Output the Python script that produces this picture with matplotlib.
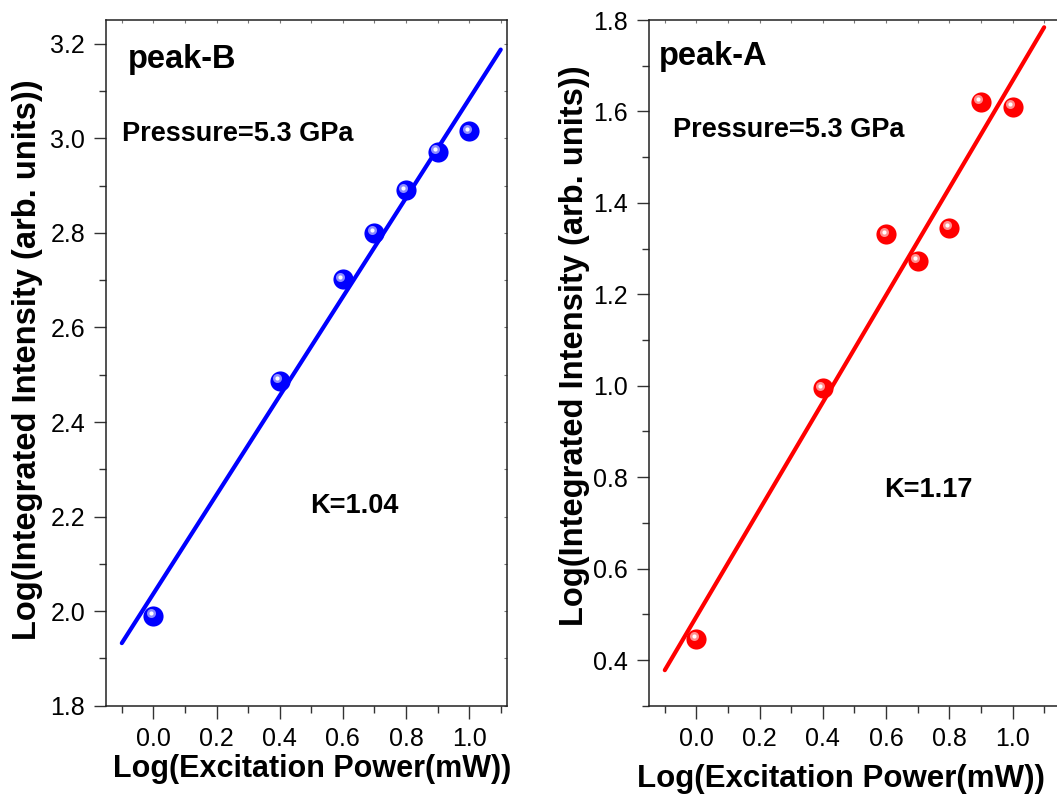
import numpy as np
import matplotlib
matplotlib.use('Agg')
import matplotlib.pyplot as plt
from matplotlib.ticker import MultipleLocator
from matplotlib.transforms import offset_copy

plt.rcParams['font.family'] = ['Liberation Sans', 'DejaVu Sans']

# log(excitation power) and log(integrated intensity)
power = [0.0, 0.4, 0.6, 0.7, 0.8, 0.9, 1.0]
peak_b = [1.99, 2.487, 2.702, 2.80, 2.890, 2.971, 3.015]
peak_a = [0.446, 0.994, 1.331, 1.273, 1.346, 1.621, 1.610]

# linear fits drawn in the figure: (slope K, intercept)
fit_b = (1.046, 2.037)
fit_a = (1.172, 0.495)
fit_x = [-0.1, 1.1]


def sphere(ax, fig, x, y, color, light):
    # big ball plus a small off-centre highlight
    ax.plot(x, y, 'o', ms=14.5, color=color, mec='none', zorder=3)
    tr = offset_copy(ax.transData, fig=fig, x=-2.5, y=2.5, units='dots')
    ax.plot(x, y, 'o', ms=6.5, color=light, mec='none', zorder=4, transform=tr)
    ax.plot(x, y, 'o', ms=3, color='white', mec='none', zorder=5, transform=tr)


def style(ax):
    ax.xaxis.set_major_locator(MultipleLocator(0.2))
    ax.xaxis.set_minor_locator(MultipleLocator(0.1))
    ax.yaxis.set_major_locator(MultipleLocator(0.2))
    ax.yaxis.set_minor_locator(MultipleLocator(0.1))
    ax.tick_params(which='major', direction='out', length=9, width=1,
                   labelsize=18, color='#333333')
    ax.tick_params(which='minor', direction='out', length=4.8, width=1,
                   color='#333333')
    ax.tick_params(axis='x', pad=6.5)
    ax.tick_params(axis='y', pad=6)
    ax.xaxis.set_major_formatter(matplotlib.ticker.FormatStrFormatter('%.1f'))
    ax.yaxis.set_major_formatter(matplotlib.ticker.FormatStrFormatter('%.1f'))
    for s in ax.spines.values():
        s.set_linewidth(1.1)
        s.set_color('#222222')
    # tiny inward ticks on top and right
    sec = ax.secondary_xaxis('top')
    sec.xaxis.set_major_locator(MultipleLocator(0.1))
    sec.tick_params(direction='in', length=2, width=0.8, labeltop=False, color='#777777')
    sec.spines['top'].set_visible(False)
    sec2 = ax.secondary_yaxis('right')
    sec2.yaxis.set_major_locator(MultipleLocator(0.1))
    sec2.tick_params(direction='in', length=2, width=0.8, labelright=False, color='#777777')
    sec2.spines['right'].set_visible(False)


fig = plt.figure(figsize=(10.57, 7.96), dpi=100)
ax1 = fig.add_axes([0.1003, 0.1134, 0.3794, 0.8614])
ax2 = fig.add_axes([0.614, 0.1134, 0.3888, 0.8614])

fx = np.array(fit_x)

# left: peak-B
ax1.plot(fx, fit_b[0] * fx + fit_b[1], color='#0000ff', lw=3, solid_capstyle='round', zorder=2)
sphere(ax1, fig, power, peak_b, '#0000ff', '#8c8cff')
ax1.set_xlim(-0.15, 1.12)
ax1.set_ylim(1.8, 3.25)
style(ax1)
ax1.text(0.055, 0.930, 'peak-B', transform=ax1.transAxes, fontsize=23.5,
         fontweight='bold', va='baseline')
ax1.text(0.040, 0.824, 'Pressure=5.3 GPa', transform=ax1.transAxes, fontsize=19.5,
         fontweight='bold', va='baseline')
ax1.text(0.509, 0.281, 'K=1.04', transform=ax1.transAxes, fontsize=19.5,
         fontweight='bold', va='baseline')
ax1.set_xlabel('Log(Excitation Power(mW))', fontsize=22, fontweight='bold')
ax1.xaxis.set_label_coords(0.514, -0.104)
ax1.xaxis.label.set_va('baseline')
ax1.set_ylabel('Log(Integrated Intensity (arb. units))', fontsize=23.5, fontweight='bold')
ax1.yaxis.set_label_coords(-0.197, 0.504)
ax1.yaxis.label.set_va('center')

# right: peak-A
ax2.plot(fx, fit_a[0] * fx + fit_a[1], color='#ff0000', lw=3, solid_capstyle='round', zorder=2)
sphere(ax2, fig, power, peak_a, '#ff0000', '#ff9090')
ax2.set_xlim(-0.15, 1.15)
ax2.set_ylim(0.3, 1.8)
style(ax2)
ax2.text(0.024, 0.934, 'peak-A', transform=ax2.transAxes, fontsize=23.5,
         fontweight='bold', va='baseline')
ax2.text(0.058, 0.830, 'Pressure=5.3 GPa', transform=ax2.transAxes, fontsize=19.5,
         fontweight='bold', va='baseline')
ax2.text(0.573, 0.305, 'K=1.17', transform=ax2.transAxes, fontsize=19.5,
         fontweight='bold', va='baseline')
ax2.set_xlabel('Log(Excitation Power(mW))', fontsize=22.5, fontweight='bold')
ax2.xaxis.set_label_coords(0.467, -0.1186)
ax2.xaxis.label.set_va('baseline')
ax2.set_ylabel('Log(Integrated Intensity (arb. units))', fontsize=23.5, fontweight='bold')
ax2.yaxis.set_label_coords(-0.182, 0.525)
ax2.yaxis.label.set_va('center')

fig.savefig('out.png', dpi=100)
